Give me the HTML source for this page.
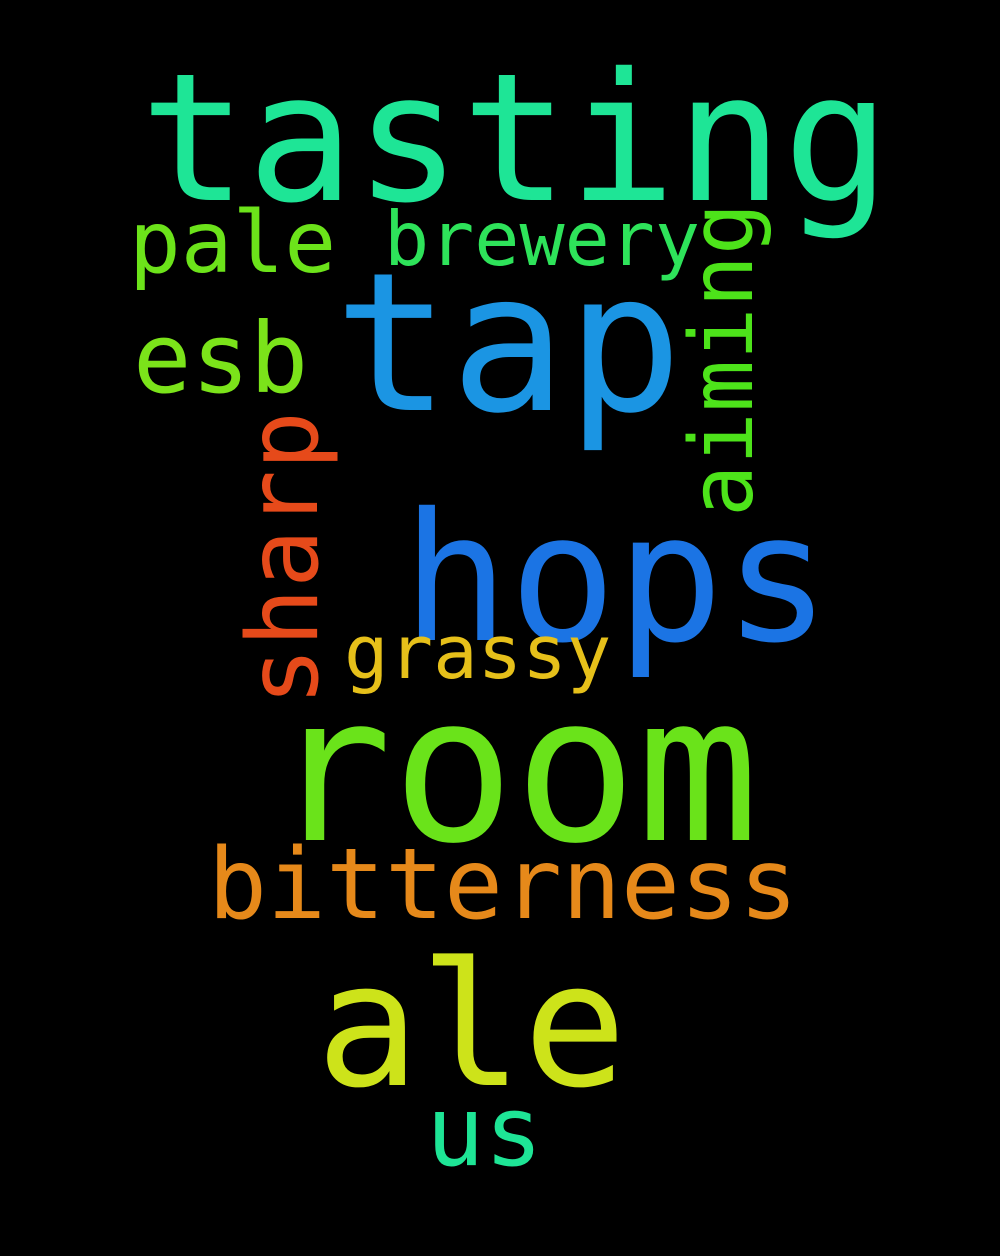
<!DOCTYPE html>
<html><head><meta charset="utf-8"><style>
html,body{margin:0;padding:0;background:#000;}
svg{display:block;}
text{font-family:"DejaVu Sans Mono","Liberation Mono",monospace;}
</style></head><body>
<svg width="1000" height="1256" viewBox="0 0 1000 1256">
<rect width="1000" height="1256" fill="#000"/>
<text x="140" y="200" font-size="178" fill="#1ee596">tasting</text>
<text x="334" y="410" font-size="193" fill="#1b95e3">tap</text>
<text x="402" y="640" font-size="178" fill="#1b74e4">hops</text>
<text x="270" y="840" font-size="203" fill="#6ae31a">room</text>
<text x="316" y="1085" font-size="172" fill="#cde31a">ale</text>
<text x="208" y="918" font-size="98" fill="#e6891a">bitterness</text>
<text x="129" y="272" font-size="86" fill="#6ce31a">pale</text>
<text x="384" y="265" font-size="75" fill="#2ee35a">brewery</text>
<text x="133" y="392" font-size="97" fill="#7be31a">esb</text>
<text x="344" y="678" font-size="74" fill="#e6c01a">grassy</text>
<text x="426" y="1165" font-size="97" fill="#1ee596">us</text>
<text transform="translate(317,706) rotate(-90)" x="0" y="0" font-size="98" fill="#e64a1a">sharp</text>
<text transform="translate(752,517) rotate(-90)" x="0" y="0" font-size="87" fill="#4de31a">aiming</text>
</svg>
</body></html>
